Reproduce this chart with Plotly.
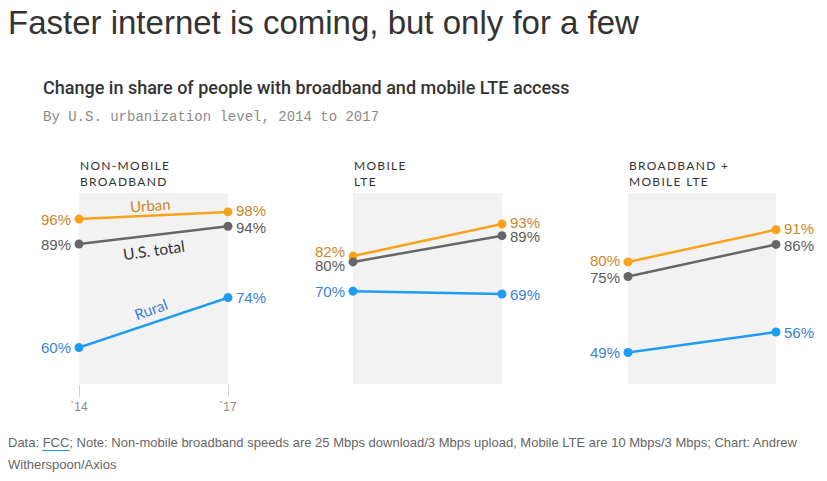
import plotly.graph_objects as go

W, H = 827, 481

# ---- data ----
panels = ["NON-MOBILE<br>BROADBAND", "MOBILE<br>LTE", "BROADBAND +<br>MOBILE LTE"]
years = [2014, 2017]
year_ticks = ["`14", "`17"]
urban = [[96, 98], [82, 93], [80, 91]]
total = [[89, 94], [80, 89], [75, 86]]
rural = [[60, 74], [70, 69], [49, 56]]
series_names = ["Urban", "U.S. total", "Rural"]

# ---- styles ----
line_colors = ["#fba21c", "#666666", "#1e9bf5"]
text_colors = ["#c9862a", "#5b5b5b", "#3b7fd9"]
bg = "#f1f2f1"

x_domains = [(79, 228), (353, 502), (628, 776)]
y_px = (193, 384)
y_ranges = [[49.8, 103.3], [38.2, 103.6], [38.2, 103.6]]

def px_x(p):
    return p / W

def px_y(p):
    return 1 - p / H

fig = go.Figure()
series = [urban, total, rural]
annotations = []

# label nudges (pixels) to avoid overlap: (panel, series, side) -> yshift
nudge = {(1, 0, 0): 5, (1, 1, 0): -4, (0, 0, 1): 1, (0, 1, 1): -1,
         (1, 0, 1): 1, (1, 1, 1): -1, (2, 0, 0): 1, (2, 1, 0): -1,
         (2, 0, 1): 1, (2, 1, 1): -1}

for i in range(3):
    xa = "x" if i == 0 else f"x{i+1}"
    ya = "y" if i == 0 else f"y{i+1}"
    for s, data in enumerate(series):
        fig.add_trace(go.Scatter(
            x=years, y=data[i], mode="lines+markers",
            line=dict(color=line_colors[s], width=2.5),
            marker=dict(color=line_colors[s], size=9),
            cliponaxis=False, showlegend=False, hoverinfo="skip",
            xaxis=xa, yaxis=ya))
        for side in range(2):
            annotations.append(dict(
                x=years[side], y=data[i][side], xref=xa, yref=ya,
                text=f"{data[i][side]}%", showarrow=False,
                xanchor="right" if side == 0 else "left",
                xshift=-6 if side == 0 else 6,
                yshift=nudge.get((i, s, side), 0),
                font=dict(family="Liberation Sans, Arial, sans-serif", size=15,
                          color=text_colors[s])))
    # panel title
    annotations.append(dict(
        x=px_x(x_domains[i][0] - 1), y=px_y(156), xref="paper", yref="paper",
        xanchor="left", yanchor="top", align="left", showarrow=False,
        text="<br>".join(f"<span style='letter-spacing:1.3px'>{t}</span>" for t in panels[i].split("<br>")),
        font=dict(family="Lato, Roboto, sans-serif", size=12, color="#333333")))

# in-line series labels on first panel
annotations += [
    dict(x=2015.43, y=99.8, xref="x", yref="y", text="Urban", textangle=-4,
         showarrow=False, font=dict(family="Lato, Roboto, sans-serif", size=15, color=text_colors[0])),
    dict(x=2015.5, y=87.2, xref="x", yref="y", text="U.S. total", textangle=-8,
         showarrow=False, font=dict(family="Lato, Roboto, sans-serif", size=15.5, color="#333333")),
    dict(x=2015.45, y=70.8, xref="x", yref="y", text="Rural", textangle=-20,
         showarrow=False, font=dict(family="Lato, Roboto, sans-serif", size=15, color=text_colors[2])),
]

# titles and notes
annotations += [
    dict(x=px_x(6), y=px_y(22), xref="paper", yref="paper", xanchor="left", yanchor="middle",
         text="Faster internet is coming, but only for a few", showarrow=False,
         font=dict(family="Liberation Sans, Arial, sans-serif", size=33, color="#333333")),
    dict(x=px_x(41), y=px_y(87), xref="paper", yref="paper", xanchor="left", yanchor="middle",
         text="Change in share of people with broadband and mobile LTE access", showarrow=False,
         font=dict(family="Roboto, sans-serif", size=18, color="#333333", weight=500)),
    dict(x=px_x(41), y=px_y(117), xref="paper", yref="paper", xanchor="left", yanchor="middle",
         text="By U.S. urbanization level, 2014 to 2017", showarrow=False,
         font=dict(family="Liberation Mono, DejaVu Sans Mono, monospace", size=14, color="#8a8a8a")),
    dict(x=px_x(6), y=px_y(442), xref="paper", yref="paper", xanchor="left", yanchor="middle",
         text="Data: FCC; Note: Non-mobile broadband speeds are 25 Mbps download/3 Mbps upload, Mobile LTE are 10 Mbps/3 Mbps; Chart: Andrew",
         showarrow=False,
         font=dict(family="Liberation Sans, Arial, sans-serif", size=13, color="#666666")),
    dict(x=px_x(6), y=px_y(464), xref="paper", yref="paper", xanchor="left", yanchor="middle",
         text="Witherspoon/Axios", showarrow=False,
         font=dict(family="Liberation Sans, Arial, sans-serif", size=13, color="#666666")),
]

layout = dict(
    width=W, height=H, margin=dict(l=0, r=0, t=0, b=0, pad=0, autoexpand=False),
    autosize=False,
    paper_bgcolor="white", plot_bgcolor=bg, annotations=annotations,
    showlegend=False,
    shapes=[dict(type="line", xref="paper", yref="paper",
                 x0=px_x(42), x1=px_x(70), y0=px_y(450.5), y1=px_y(450.5),
                 line=dict(color="#1e9bf5", width=1))],
)
for i in range(3):
    xk = "xaxis" if i == 0 else f"xaxis{i+1}"
    yk = "yaxis" if i == 0 else f"yaxis{i+1}"
    layout[xk] = dict(
        domain=[px_x(x_domains[i][0]), px_x(x_domains[i][1])], range=[2014, 2017],
        anchor="y" if i == 0 else f"y{i+1}",
        showgrid=False, zeroline=False, showline=False,
        tickvals=years, ticktext=year_ticks,
        showticklabels=(i == 0), ticks="outside" if i == 0 else "",
        ticklen=12, tickcolor="#d0d0d0", tickwidth=1,
        tickfont=dict(family="Liberation Sans, Arial, sans-serif", size=12, color="#8a8a8a"),
        automargin=False, fixedrange=True)
    layout[yk] = dict(
        domain=[px_y(y_px[1]), px_y(y_px[0])], range=y_ranges[i],
        anchor="x" if i == 0 else f"x{i+1}",
        showgrid=False, zeroline=False, showline=False, showticklabels=False,
        automargin=False, fixedrange=True)

fig.update_layout(**layout)
fig.write_html("out.html", config={"responsive": False})
